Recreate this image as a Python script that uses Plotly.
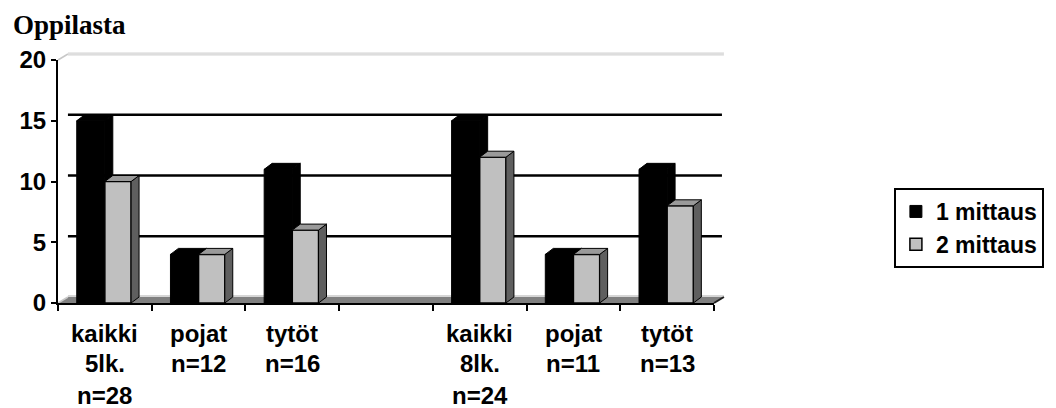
import plotly.graph_objects as go

# ---- data -------------------------------------------------------------
categories = ["kaikki 5lk. n=28", "pojat n=12", "tytöt n=16", " ",
              "kaikki 8lk. n=24", "pojat n=11", "tytöt n=13"]
label_lines = [["kaikki", "5lk.", "n=28"], ["pojat", "n=12"], ["tytöt", "n=16"], [],
               ["kaikki", "8lk.", "n=24"], ["pojat", "n=11"], ["tytöt", "n=13"]]
series_names = ["1 mittaus", "2 mittaus"]
mittaus_1 = [15, 4, 11, None, 15, 4, 11]
mittaus_2 = [10, 4, 6, None, 12, 4, 8]
y_ticks = [0, 5, 10, 15, 20]

# ---- layout constants (pixels) ------------------------------------------
W, H = 1056, 408
PL, PR, PT, PB = 58, 718, 60, 303          # plot area edges
PW, PH = PR - PL, PB - PT
Y_MAX = 20
N = len(categories)
px_cat = PW / N                            # pixels per category
px_val = PH / Y_MAX                        # pixels per value unit
DEPTH_X, DEPTH_Y = 8, 6                    # 3D depth of the bars
WALL_X, WALL_Y = 10, 6                     # 3D depth of walls/floor
DX, DY = DEPTH_X / px_cat, DEPTH_Y / px_val

FONT = "Liberation Sans, Arial, sans-serif"
FS = 24


def px2paper(x=None, y=None):
    out = []
    if x is not None:
        out.append((x - PL) / PW)
    if y is not None:
        out.append((PB - y) / PH)
    return out[0] if len(out) == 1 else tuple(out)


def ypx(v):
    return PB - v * px_val


shapes = []

# floor
fx0, fy0 = px2paper(PL, PB)
fx1, fy1 = px2paper(PR, PB)
bx0, by0 = px2paper(PL + WALL_X, PB - WALL_Y)
bx1, by1 = px2paper(PR + WALL_X, PB - WALL_Y)
shapes.append(dict(type="path", xref="paper", yref="paper", layer="below",
                   path=f"M{fx0},{fy0} L{fx1},{fy1} L{bx1},{by1} L{bx0},{by0} Z",
                   fillcolor="#808080", line=dict(width=0)))
shapes.append(dict(type="line", xref="paper", yref="paper", layer="below",
                   x0=bx0, y0=by0 + 0.004, x1=bx1, y1=by1 + 0.004,
                   line=dict(color="#c8c8c8", width=1.5)))
shapes.append(dict(type="line", xref="paper", yref="paper", layer="below",
                   x0=fx0, y0=fy0, x1=bx0, y1=by0,
                   line=dict(color="#c8c8c8", width=1.5)))
shapes.append(dict(type="line", xref="paper", yref="paper", layer="below",
                   x0=fx1, y0=fy1, x1=bx1, y1=by1,
                   line=dict(color="#202020", width=2)))

# back wall grid lines and top edge
for v in y_ticks[1:]:
    yb = px2paper(y=ypx(v) - WALL_Y)
    if v < Y_MAX:
        shapes.append(dict(type="line", xref="paper", yref="paper", layer="below",
                           x0=bx0, y0=yb, x1=px2paper(x=PR + WALL_X - 2), y1=yb,
                           line=dict(color="black", width=2.5)))
    else:
        for off in (-0.9, 0.9):
            yy = px2paper(y=ypx(v) - WALL_Y + off)
            shapes.append(dict(type="line", xref="paper", yref="paper", layer="below",
                               x0=bx0, y0=yy, x1=px2paper(x=PR + WALL_X), y1=yy,
                               line=dict(color="#c8c8c8", width=1)))
        tx, ty = px2paper(PL, ypx(v))
        shapes.append(dict(type="line", xref="paper", yref="paper", layer="below",
                           x0=tx, y0=ty, x1=bx0, y1=px2paper(y=ypx(v) - WALL_Y),
                           line=dict(color="#c8c8c8", width=1.5)))


def bar_faces(values, offset, width, top_color, side_color, layer):
    faces = []
    for i, v in enumerate(values):
        if v is None:
            continue
        xl = i + offset
        xr = xl + width
        faces.append(dict(type="path", xref="x", yref="y", layer=layer,
                          path=f"M{xr},0 L{xr},{v} L{xr + DX},{v + DY} L{xr + DX},{DY} Z",
                          fillcolor=side_color, line=dict(color="black", width=1)))
        faces.append(dict(type="path", xref="x", yref="y", layer=layer,
                          path=f"M{xl},{v} L{xr},{v} L{xr + DX},{v + DY} L{xl + DX},{v + DY} Z",
                          fillcolor=top_color, line=dict(color="black", width=1)))
    return faces


OFF1, W1 = -0.30, 0.30
OFF2, W2 = 0.0, 0.28

shapes += bar_faces(mittaus_1, OFF1, W1, "black", "black", "below")
shapes += bar_faces(mittaus_2, OFF2, W2, "#9a9a9a", "#5f5f5f", "above")

fig = go.Figure()
fig.add_trace(go.Bar(x=categories, y=mittaus_1, name=series_names[0],
                     offset=OFF1, width=W1,
                     marker=dict(color="black", line=dict(color="black", width=1))))
fig.add_trace(go.Bar(x=categories, y=mittaus_2, name=series_names[1],
                     offset=OFF2, width=W2,
                     marker=dict(color="#c0c0c0", line=dict(color="black", width=1.5))))

annotations = []
# category labels, one annotation per line
line_px = [333, 363, 395]
for cat, lines in zip(categories, label_lines):
    for k, txt in enumerate(lines):
        annotations.append(dict(text=txt, x=cat, xref="x", y=px2paper(y=line_px[k]),
                                yref="paper", xanchor="center", yanchor="middle",
                                showarrow=False,
                                font=dict(family=FONT, size=FS, weight="bold", color="black")))
annotations.append(dict(text="Oppilasta", x=px2paper(x=11), y=px2paper(y=25),
                        xref="paper", yref="paper", xanchor="left", yanchor="middle",
                        showarrow=False,
                        font=dict(family="Liberation Serif, Times New Roman, serif",
                                  size=27, weight="bold", color="black")))

lx, ly = px2paper(899, 188)
fig.update_layout(
    width=W, height=H,
    margin=dict(l=PL, r=W - PR, t=PT, b=H - PB, pad=0),
    paper_bgcolor="white", plot_bgcolor="white",
    showlegend=True,
    legend=dict(x=lx, y=ly, xanchor="left", yanchor="top",
                bordercolor="black", borderwidth=2, bgcolor="white",
                font=dict(family=FONT, size=23, weight="bold", color="black"),
                itemwidth=30),
    shapes=shapes,
    annotations=annotations,
    xaxis=dict(type="category", categoryorder="array", categoryarray=categories,
               range=[-0.5, N - 0.5], tickson="boundaries",
               ticks="outside", ticklen=6, tickwidth=2, tickcolor="black",
               showticklabels=False, showgrid=False, zeroline=False,
               showline=True, linecolor="black", linewidth=2, fixedrange=True),
    yaxis=dict(range=[0, Y_MAX], tickvals=y_ticks,
               ticks="outside", ticklen=5, tickwidth=2, tickcolor="black",
               tickfont=dict(family=FONT, size=FS, weight="bold", color="black"),
               showgrid=False, zeroline=False,
               showline=True, linecolor="black", linewidth=2, fixedrange=True),
)

fig.write_html("out.html")
